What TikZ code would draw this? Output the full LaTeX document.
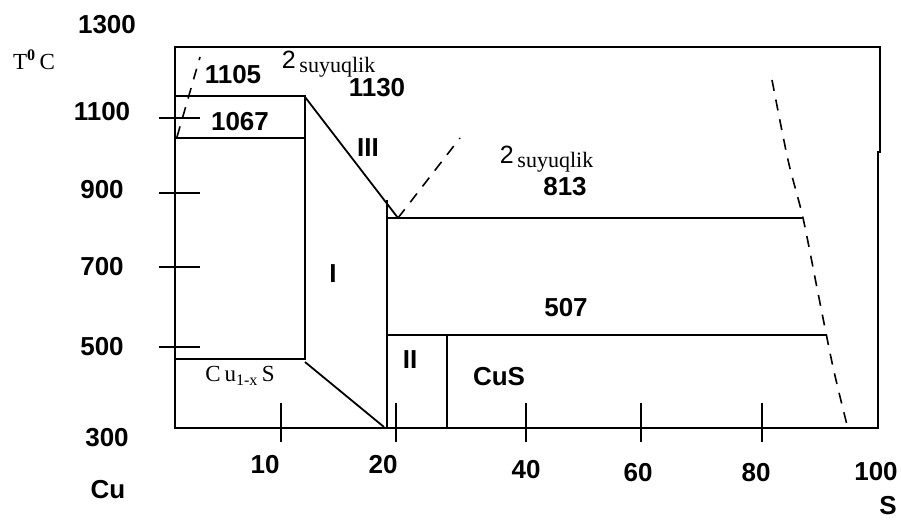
\documentclass[tikz,border=0pt]{standalone}
\usepackage{fontspec}
\setmainfont{Liberation Serif}
\setsansfont{Liberation Sans}
\usetikzlibrary{positioning}

\begin{document}
\begin{tikzpicture}[x=1pt,y=-1pt,line width=1.8pt,
  num/.style={font=\sffamily\bfseries\fontsize{26}{30}\selectfont,inner sep=0pt},
  ser/.style={font=\rmfamily\fontsize{23}{26}\selectfont,inner sep=0pt},
  liq/.style={font=\fontsize{22}{26}\selectfont,inner sep=0pt,anchor=base west},
  dsh/.style={line width=1.6pt,dash pattern=on 11pt off 9pt}]
\useasboundingbox (0,0) rectangle (901,521);

\coordinate (o) at (175,428);
\coordinate (a) at (305,97);
\coordinate (b) at (305,362);
\coordinate (c) at (384,427);
\coordinate (d) at (398,218);
\coordinate (e) at (827,335);
\coordinate (f) at (802,218);

\draw (175,47) -- (880,47) -- (880,152) -- (878,152) -- (878,428) -- (o) -- cycle;
\draw (175,96) -- (305,96) -- (305,359) -- (175,359);
\draw (175,138) -- (305,138);
\draw (a) -- (d);
\draw (b) -- (c);
\draw (387,200) -- (387,428);
\draw (387,218) -- (f);
\draw (387,335) -- (e);
\draw (447,335) -- (447,428);

\draw[dsh] (177,137) -- (200,57);
\draw[dsh] (d) -- (460,138);
\draw[dsh] plot[smooth] coordinates {(772,80) (788,160) (803,218) (818,293) (833,367) (847,425)};

\foreach \y in {118,193,267,347}
  \draw (159,\y) -- (200,\y);
\foreach \x in {281,396,526,641,762}
  \draw (\x,403) -- (\x,442);

\node[num] (t1300) at (107,25) {1300};
\node[ser] (tc) at (34,60) {T\textsuperscript{\bfseries 0}\,C};
\foreach \t/\y in {1100/112,900/190,700/267,500/347}
  \node[num] (t\t) at (102,\y) {\t};
\node[num] (t300) at (107,438) {300};
\node[num] (cu) at (108,490) {Cu};
\node[num] (s10) at (265,465) {10};
\node[num] (s20) at (383,465) {20};
\node[num] (s40) at (526,470) {40};
\node[num] (s60) at (638,473) {60};
\node[num] (s80) at (756,473) {80};
\node[num] (s100) at (876,472) {100};
\node[num] (s) at (888,506) {S};

\node[num] (m1105) at (233,75) {1105};
\node[liq] (liq1) at (281,69) {{\sffamily\fontsize{25}{28}\selectfont 2}\,\raisebox{-4pt}{\rmfamily suyuqlik}};
\node[num] (m1130) at (377,88) {1130};
\node[num] (m1067) at (240,122) {1067};
\node[num] (f3) at (368,148) {III};
\node[liq] (liq2) at (499,164) {{\sffamily\fontsize{25}{28}\selectfont 2}\,\raisebox{-4pt}{\rmfamily suyuqlik}};
\node[num] (m813) at (565,187) {813};
\node[num] (f1) at (333,274) {I};
\node[num] (m507) at (566,308) {507};
\node[num] (f2) at (410,360) {II};
\node[num] (cus) at (499,377) {CuS};
\node[ser] (cux) at (240,376) {C\,u\textsubscript{1-x}\,S};
\end{tikzpicture}
\end{document}
